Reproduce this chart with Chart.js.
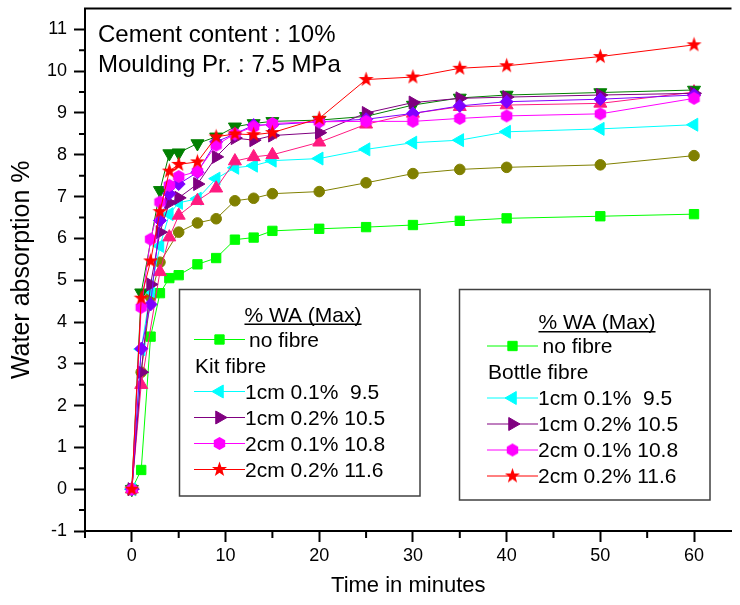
<!DOCTYPE html>
<html>
<head>
<meta charset="utf-8">
<script src="https://cdn.jsdelivr.net/npm/chart.js@4"></script>
<style>
  body { margin: 0; background: #fff; }
  canvas { display: block; }
</style>
</head>
<body>
<canvas id="chart" width="740" height="605"></canvas>
<script>
// time axis shared by all series (minutes)
const minutes = [0, 1, 2, 3, 4, 5, 7, 9, 11, 13, 15, 20, 25, 30, 35, 40, 50, 60]

// water absorption %, null = point not visible
const noFibre   = [0, 0.46, 3.65, 4.69, 5.05, 5.12, 5.38, 5.53, 5.97, 6.02, 6.18, 6.23, 6.27, 6.32, 6.42, 6.48, 6.53, 6.58]
const olive     = [0, 2.8, 4.6, 5.43, null, 6.15, 6.37, 6.47, 6.9, 6.96, 7.07, 7.12, 7.33, 7.55, 7.65, 7.7, 7.76, 7.98]
const cyan      = [0, 3.35, 4.74, 5.82, 6.58, 6.85, 6.95, 7.43, 7.69, 7.74, 7.86, 7.91, 8.13, 8.29, 8.35, 8.55, 8.62, 8.72]
const pink      = [0, 2.5, null, 5.2, 6.03, 6.55, 6.9, 7.2, 7.85, 7.95, 8.0, 8.3, 8.73, 8.99, 9.15, 9.19, 9.23, 9.5]
const purple    = [0, 2.8, 4.9, 6.15, 6.85, 6.97, 7.3, 7.95, 8.4, 8.35, 8.46, 8.53, 9.0, 9.25, 9.35, 9.38, 9.43, 9.47]
const violet    = [0, 3.36, 4.42, 6.43, 7.07, 7.3, 7.58, 8.31, 8.5, 8.71, 8.72, 8.79, 8.85, 8.99, 9.17, 9.27, 9.33, 9.43]
const magenta   = [0, 4.35, 5.98, 6.87, 7.27, 7.48, 7.6, 8.23, 8.5, 8.67, 8.75, 8.79, 8.8, 8.8, 8.87, 8.93, 8.98, 9.35]
const darkGreen = [0, 4.7, null, 7.15, 8.03, 8.05, 8.27, 8.43, 8.67, 8.75, 8.8, 8.83, 8.92, 9.19, 9.36, 9.43, 9.49, 9.55]
const red       = [0, 4.57, 5.46, 6.64, 7.61, 7.77, 7.83, 8.43, 8.5, 8.48, 8.53, 8.87, 9.8, 9.86, 10.07, 10.13, 10.35, 10.63]

const xTicks = [0, 10, 20, 30, 40, 50, 60]
const xMinor = [-5, 5, 15, 25, 35, 45, 55]
const yTicks = [-1, 0, 1, 2, 3, 4, 5, 6, 7, 8, 9, 10, 11]
const yMinor = [-0.5, 0.5, 1.5, 2.5, 3.5, 4.5, 5.5, 6.5, 7.5, 8.5, 9.5, 10.5]

const notes = ['Cement content : 10%', 'Moulding Pr. : 7.5 MPa']
const legendTitle = '% WA (Max)'
const kitLegend = ['no fibre', 'Kit fibre', '1cm 0.1%  9.5', '1cm 0.2% 10.5', '2cm 0.1% 10.8', '2cm 0.2% 11.6']
const bottleLegend = ['no fibre', 'Bottle fibre', '1cm 0.1%  9.5', '1cm 0.2% 10.5', '2cm 0.1% 10.8', '2cm 0.2% 11.6']

const FONT = "'Liberation Sans', Arial, sans-serif"

// little canvases for markers chart.js does not have
const makeMarker = (size, color, path) => {
  let c = document.createElement('canvas')
  c.width = size
  c.height = size
  let g = c.getContext('2d')
  g.translate(size / 2, size / 2)
  g.fillStyle = color
  g.beginPath()
  path(g)
  g.closePath()
  g.fill()
  return c
}
const starPath = g => {
  for (let i = 0; i < 10; i++) {
    let r = i % 2 ? 3.2 : 7.9
    let a = -Math.PI / 2 + i * Math.PI / 5
    g.lineTo(Math.cos(a) * r, Math.sin(a) * r)
  }
}
const hexPath = g => {
  for (let i = 0; i < 6; i++) {
    let a = -Math.PI / 2 + i * Math.PI / 3
    g.lineTo(Math.cos(a) * 6.6, Math.sin(a) * 6.6)
  }
}
const starImg = makeMarker(17, '#ff0000', starPath)
const hexImg = makeMarker(15, '#ff00ff', hexPath)

// drawing order: first one ends up on top
const series = [
  {data: red, color: '#ff0000', style: starImg, radius: 7, rot: 0},
  {data: magenta, color: '#ff00ff', style: hexImg, radius: 6, rot: 0},
  {data: violet, color: '#8000ff', style: 'rectRot', radius: 6.5, rot: 0},
  {data: purple, color: '#800080', style: 'triangle', radius: 7.5, rot: 90},
  {data: darkGreen, color: '#008000', style: 'triangle', radius: 7.5, rot: 180},
  {data: pink, color: '#ff1a80', style: 'triangle', radius: 7.5, rot: 0},
  {data: cyan, color: '#00ffff', style: 'triangle', radius: 7.5, rot: -90},
  {data: olive, color: '#808000', style: 'circle', radius: 5.3, rot: 0},
  {data: noFibre, color: '#00ff00', style: 'rect', radius: 6.6, rot: 0},
]
// which series show in the legend boxes, in order
const legendSeries = [8, null, 6, 3, 1, 0]

const boxes = [
  {x: 179.5, y: 289.5, w: 240.5, h: 206.5, titleX: 303, titleY: 321.5, row0: 346.5,
   lineX0: 194, lineX1: 245, firstTextX: 249, textX: 245, groupX: 195, labels: kitLegend},
  {x: 459.5, y: 289.5, w: 250.5, h: 210.5, titleX: 597, titleY: 329, row0: 353,
   lineX0: 487, lineX1: 538, firstTextX: 542.5, textX: 538, groupX: 488, labels: bottleLegend},
]

const extras = {
  id: 'extras',
  afterDraw(chart) {
    const ctx = chart.ctx
    const {left, right, top, bottom} = chart.chartArea
    const xs = chart.scales.x
    const ys = chart.scales.y
    ctx.save()
    // top frame line
    ctx.strokeStyle = '#000'
    ctx.lineWidth = 2
    ctx.beginPath()
    ctx.moveTo(left - 1, top)
    ctx.lineTo(right, top)
    ctx.stroke()
    // minor ticks
    ctx.beginPath()
    xMinor.forEach(v => {
      let px = xs.getPixelForValue(v)
      ctx.moveTo(px, bottom)
      ctx.lineTo(px, bottom + 7)
    })
    yMinor.forEach(v => {
      let py = ys.getPixelForValue(v)
      ctx.moveTo(left, py)
      ctx.lineTo(left - 6, py)
    })
    ctx.stroke()

    // notes in the top left corner
    ctx.fillStyle = '#000'
    ctx.font = '24px ' + FONT
    ctx.textBaseline = 'alphabetic'
    ctx.textAlign = 'left'
    ctx.fillText(notes[0], 98, 41.5)
    ctx.fillText(notes[1], 98, 71.5)

    // the two legend boxes
    boxes.forEach(b => {
      ctx.strokeStyle = '#404040'
      ctx.lineWidth = 1.5
      ctx.strokeRect(b.x, b.y, b.w, b.h)
      ctx.font = '21px ' + FONT
      ctx.fillStyle = '#000'
      ctx.textAlign = 'center'
      ctx.fillText(legendTitle, b.titleX, b.titleY)
      let tw = ctx.measureText(legendTitle).width
      ctx.fillRect(b.titleX - tw / 2, b.titleY + 2, tw, 1.5)
      ctx.textAlign = 'left'
      b.labels.forEach((lab, i) => {
        let by = b.row0 + i * 26
        let k = legendSeries[i]
        if (k === null) {
          ctx.fillStyle = '#000'
          ctx.fillText(lab, b.groupX, by)
          return
        }
        let s = series[k]
        let my = by - 7
        ctx.strokeStyle = s.color
        ctx.lineWidth = 1
        ctx.beginPath()
        ctx.moveTo(b.lineX0, my)
        ctx.lineTo(b.lineX1, my)
        ctx.stroke()
        ctx.fillStyle = s.color
        Chart.helpers.drawPoint(ctx, {pointStyle: s.style, radius: s.radius, rotation: s.rot, borderWidth: 1},
          (b.lineX0 + b.lineX1) / 2, my)
        ctx.fillStyle = '#000'
        ctx.fillText(lab, i === 0 ? b.firstTextX : b.textX, by)
      })
    })
    ctx.restore()
  }
}

const fixTicks = (values) => scale => {
  scale.ticks = values.map(v => ({value: v}))
}

new Chart(document.getElementById('chart'), {
  type: 'line',
  data: {
    labels: minutes,
    datasets: series.map(s => ({
      data: s.data.map((v, i) => ({x: minutes[i], y: v})),
      borderColor: s.color,
      backgroundColor: s.color,
      borderWidth: 1,
      pointStyle: s.style,
      pointRadius: s.radius,
      pointRotation: s.rot,
      pointBorderWidth: 1,
      pointBorderColor: s.color,
      pointBackgroundColor: s.color,
      spanGaps: true,
      tension: 0,
    }))
  },
  options: {
    responsive: false,
    animation: false,
    devicePixelRatio: 1,
    layout: {padding: {top: 7.5, right: 0, left: 0, bottom: 0}},
    plugins: {
      legend: {display: false},
      tooltip: {enabled: false},
    },
    scales: {
      x: {
        type: 'linear',
        min: -5,
        max: 64,
        afterBuildTicks: fixTicks(xTicks),
        afterFit: scale => {
          scale.height = 74
          scale.paddingLeft = 0
          scale.paddingRight = 0
        },
        border: {color: '#000', width: 2},
        grid: {drawOnChartArea: false, drawTicks: true, tickLength: 11, tickWidth: 2, tickColor: '#000'},
        ticks: {color: '#000', padding: 3, maxRotation: 0, font: {family: FONT, size: 18}},
        title: {display: true, text: 'Time in minutes', color: '#000',
                font: {family: FONT, size: 22}, padding: {top: 0, bottom: 6.3}},
      },
      y: {
        type: 'linear',
        min: -1,
        max: 11.5,
        afterBuildTicks: fixTicks(yTicks),
        afterFit: scale => {
          scale.width = 85
          scale.paddingTop = 0
          scale.paddingBottom = 0
        },
        border: {color: '#000', width: 2},
        grid: {drawOnChartArea: false, drawTicks: true, tickLength: 11, tickWidth: 2, tickColor: '#000'},
        ticks: {color: '#000', padding: 7, font: {family: FONT, size: 18}},
        title: {display: true, text: 'Water absorption %', color: '#000',
                font: {family: FONT, size: 25}, padding: {top: 7, bottom: 0}},
      }
    }
  },
  plugins: [extras]
})
</script>
</body>
</html>
